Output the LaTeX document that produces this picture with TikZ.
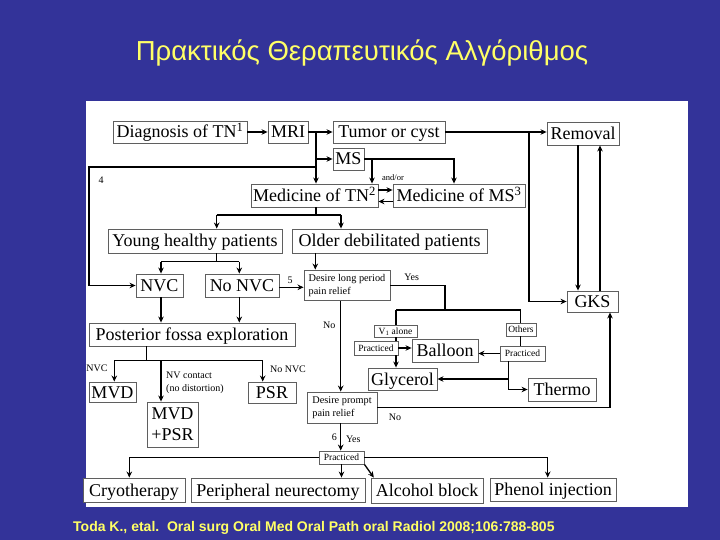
\documentclass[tikz,border=0pt]{standalone}
\usepackage{fontspec}
\setmainfont{Liberation Serif}
\newfontfamily\sansf{Liberation Sans}
\usetikzlibrary{arrows.meta}
\definecolor{bgblue}{RGB}{51,51,153}
\definecolor{ttlyellow}{RGB}{255,255,102}
\definecolor{boxgray}{RGB}{95,95,95}
\begin{document}
\begin{tikzpicture}[x=1pt,y=-1pt,
  bxbase/.style={draw=boxgray, line width=0.9pt, fill=white, inner sep=0pt, font=\fontsize{18}{20}\selectfont},
  bx/.style={bxbase, text height=15pt, text depth=3pt},
  sbx/.style={bxbase, font=\fontsize{10.3}{13}\selectfont, align=left},
  tbx/.style={bxbase, font=\fontsize{9.5}{11}\selectfont, text height=8.2pt, text depth=2pt},
  con/.style={line width=1.3pt, draw=black},
  arr/.style={con, -{Stealth[length=6pt,width=5.5pt]}},
  lbl/.style={font=\fontsize{10}{13}\selectfont, inner sep=0pt}]
\useasboundingbox (0,0) rectangle (720,540);
\fill[bgblue] (0,0) rectangle (720,540);
\fill[white] (86,101) rectangle (688,507);
\node[font=\sansf\fontsize{27.5}{31}\selectfont, text=ttlyellow, anchor=base] (title) at (362,61) {Πρακτικός Θεραπευτικός Αλγόριθμος};
\node[font=\sansf\bfseries\fontsize{14}{16}\selectfont, text=ttlyellow, anchor=base west, inner sep=0pt] (cite) at (73,531) {Toda K., etal.\ \ Oral surg Oral Med Oral Path oral Radiol 2008;106:788-805};

% boxes
\node[bx, minimum width=134pt, minimum height=22pt] (diag) at (180,132) {Diagnosis of TN\textsuperscript{1}};
\node[bx, minimum width=40pt, minimum height=22pt] (mri) at (288,132) {MRI};
\node[bx, minimum width=112pt, minimum height=22pt] (tumor) at (389,132) {Tumor or cyst};
\node[bx, minimum width=72pt, minimum height=23pt] (removal) at (583,133.5) {Removal};
\node[bx, minimum width=31pt, minimum height=22pt] (ms) at (348.5,159) {MS};
\node[bx, minimum width=127pt, minimum height=23pt] (medtn) at (314.5,195.5) {Medicine of TN\textsuperscript{2}};
\node[bx, minimum width=132pt, minimum height=23pt] (medms) at (459,195.5) {Medicine of MS\textsuperscript{3}};
\node[bx, minimum width=174pt, minimum height=24pt] (young) at (195,241) {Young healthy patients};
\node[bx, minimum width=195pt, minimum height=24pt] (older) at (389.5,241) {Older debilitated patients};
\node[bx, minimum width=47pt, minimum height=23pt] (nvc) at (159.5,285.5) {NVC};
\node[bx, minimum width=74pt, minimum height=23pt] (nonvc) at (242,285.5) {No NVC};
\node[sbx, minimum width=86pt, minimum height=30.5pt] (dlong) at (347,285.25) {Desire long period\\pain relief};
\node[bx, minimum width=51pt, minimum height=21pt] (gks) at (592.5,301.5) {GKS};
\node[bx, minimum width=206pt, minimum height=23pt] (post) at (192,334.5) {Posterior fossa exploration};
\node[tbx, minimum width=43pt, minimum height=12pt] (v1) at (395.5,331) {V\textsubscript{1} alone};
\node[tbx, minimum width=44pt, minimum height=14pt] (prac1) at (376,348) {Practiced};
\node[bx, minimum width=66pt, minimum height=23pt] (balloon) at (445,350.5) {Balloon};
\node[tbx, minimum width=30pt, minimum height=13pt] (others) at (521,329.5) {Others};
\node[tbx, minimum width=45pt, minimum height=15pt] (prac2) at (522.5,353.5) {Practiced};
\node[bx, minimum width=69pt, minimum height=22pt] (glycerol) at (402.5,379) {Glycerol};
\node[bx, minimum width=68pt, minimum height=23pt] (thermo) at (562,389.5) {Thermo};
\node[bx, minimum width=47pt, minimum height=20pt] (mvd) at (112.5,392) {MVD};
\node[bx, minimum width=48pt, minimum height=21pt] (psr) at (272,392.5) {PSR};
\node[bxbase, minimum width=51pt, minimum height=45pt, align=center, font=\fontsize{18}{21}\selectfont] (mvdpsr) at (172.5,424.5) {MVD\\+PSR};
\node[sbx, minimum width=70pt, minimum height=31pt] (dprompt) at (342,407.5) {Desire prompt\\pain relief};
\node[tbx, minimum width=45pt, minimum height=13pt] (prac3) at (341.5,457.5) {Practiced};
\node[bx, minimum width=102pt, minimum height=24pt] (cryo) at (134,490) {Cryotherapy};
\node[bx, minimum width=174pt, minimum height=24pt] (periph) at (278,490) {Peripheral neurectomy};
\node[bx, minimum width=112pt, minimum height=25pt] (alcohol) at (427,490.5) {Alcohol block};
\node[bx, minimum width=126pt, minimum height=23pt] (phenol) at (553,489.5) {Phenol injection};

% top connectors
\coordinate (j1) at (316,132);
\coordinate (j2) at (316,159);
\coordinate (j4) at (316,167);
\coordinate (l4) at (89,167);
\draw[arr] (diag.east) -- (mri.west);
\draw[arr] (mri.east) -- (tumor.west);
\draw[arr] (j1) -- (j1 |- medtn.north);
\draw[arr] (j2) -- (ms.west);
\draw[arr] (j4) -- (l4) |- (nvc.west);
\node[lbl] (n4) at (101,180) {4};

\coordinate (j5) at (454,159);
\coordinate (j6) at (372,159);
\draw[arr] (ms.east) -- (j5) -- (j5 |- medms.north);
\draw[arr] (j6) -- (j6 |- medtn.north);
\draw[arr] ([yshift=5.5pt]medtn.east) -- ([yshift=5.5pt]medms.west);
\draw[arr] ([yshift=-6pt]medms.west) -- ([yshift=-6pt]medtn.east);
\node[lbl, font=\fontsize{8.5}{10}\selectfont] (andor) at (393,178) {and/or};

\coordinate (j7) at (529,132);
\draw[arr] (tumor.east) -- (tumor.east -| removal.west);
\draw[arr] (j7) |- (gks.west);
\coordinate (r1) at (578,145);
\coordinate (r2) at (600,145);
\draw[arr] (removal.south -| r1) -- (r1 |- gks.north);
\draw[arr] (gks.north -| r2) -- (r2 |- removal.south);

% medicine -> patients
\coordinate (k1) at (316,215);
\coordinate (k2) at (216.7,215);
\coordinate (k3) at (341,215);
\draw[con] (medtn.south -| k1) -- (k1);
\draw[con] (k2) -- (k3);
\draw[arr] (k2) -- (k2 |- young.north);
\draw[arr] (k3) -- (k3 |- older.north);

% young -> nvc / no nvc
\coordinate (m1) at (216.7,261.7);
\coordinate (m2) at (161,261.7);
\coordinate (m3) at (239.3,261.7);
\draw[con] (young.south -| m1) -- (m1);
\draw[con] (m2) -- (m3);
\draw[arr] (m2) -- (m2 |- nvc.north);
\draw[arr] (m3) -- (m3 |- nonvc.north);
\draw[arr] (nvc.south -| m2) -- (m2 |- post.north);
\draw[arr] (nonvc.south -| m3) -- (m3 |- post.north);

% no nvc -> desire long
\draw[arr] ([yshift=-1.8pt]nonvc.east) -- ([yshift=-1.8pt]nonvc.east -| dlong.west);
\node[lbl] (n5) at (290,280.5) {5};
\coordinate (o1) at (315.3,253);
\draw[arr] (older.south -| o1) -- (o1 |- dlong.north);

% desire long -> desire prompt
\coordinate (p1) at (340.7,300);
\draw[arr] (dlong.south -| p1) -- (p1 |- dprompt.north);
\node[lbl] (no1) at (329.3,325.7) {No};

% desire long -> yes branch
\coordinate (q1) at (445,285.25);
\coordinate (q2) at (445,310);
\coordinate (q3) at (396,310);
\coordinate (q4) at (520.7,310);
\draw[con] (dlong.east) -- (q1) -- (q2);
\draw[con] (q3) -- (q4);
\draw[con] (q3) -- (q3 |- v1.north);
\draw[con] (q4) -- (q4 |- others.north);
\draw[con] (v1.south -| q3) -- (q3 |- prac1.north);
\node[lbl] (yes1) at (411.7,277.7) {Yes};

\draw[arr] (prac1.east) -- (prac1.east -| balloon.west);
\draw[arr] (prac1.south -| q3) -- (q3 |- glycerol.north);
\draw[con] (others.south -| q4) -- (q4 |- prac2.north);
\draw[arr] (prac2.west) -- (prac2.west -| balloon.east);
\coordinate (s2) at (508.3,379);
\coordinate (s3) at (508.3,389.5);
\draw[con] (prac2.south -| s3) -- (s3);
\draw[arr] (s3) -- (thermo.west);
\draw[arr] (s2) -- (s2 -| glycerol.east);

% posterior fossa -> outcomes
\coordinate (t1) at (146.7,360.7);
\coordinate (t2) at (114.3,360.7);
\coordinate (t3) at (262.7,360.7);
\coordinate (t4) at (161,360.7);
\draw[con] (post.south -| t1) -- (t1);
\draw[con] (t2) -- (t3);
\draw[arr] (t2) -- (t2 |- mvd.north);
\draw[arr] (t4) -- (t4 |- mvdpsr.north);
\draw[arr] (t3) -- (t3 |- psr.north);
\node[lbl] (nvcl) at (97,368.3) {NVC};
\node[lbl, anchor=west, align=left] (nvcont) at (166,382.7) {NV contact\\(no distortion)};
\node[lbl] (nonvcl) at (288,369) {No NVC};

% desire prompt -> gks
\coordinate (u1) at (610,407.5);
\draw[con] (dprompt.east) -- (u1);
\draw[arr] (u1) -- (u1 |- gks.south);
\node[lbl] (no2) at (395,417.7) {No};

% desire prompt -> practiced
\draw[arr] (dprompt.south -| p1) -- (p1 |- prac3.north);
\node[lbl] (n6) at (334.3,437.3) {6};
\node[lbl] (yes2) at (353.3,439.3) {Yes};

% practiced -> treatments
\coordinate (v1c) at (129.3,457.5);
\coordinate (v2c) at (547.7,457.5);
\draw[con] (prac3.west) -- (v1c);
\draw[arr] (v1c) -- (v1c |- cryo.north);
\draw[con] (prac3.east) -- (v2c);
\draw[arr] (v2c) -- (v2c |- phenol.north);
\draw[arr] (prac3.south) -- (prac3.south |- periph.north);
\draw[arr] (prac3.south east) -- ([xshift=3.3pt]alcohol.north west);
\end{tikzpicture}
\end{document}
